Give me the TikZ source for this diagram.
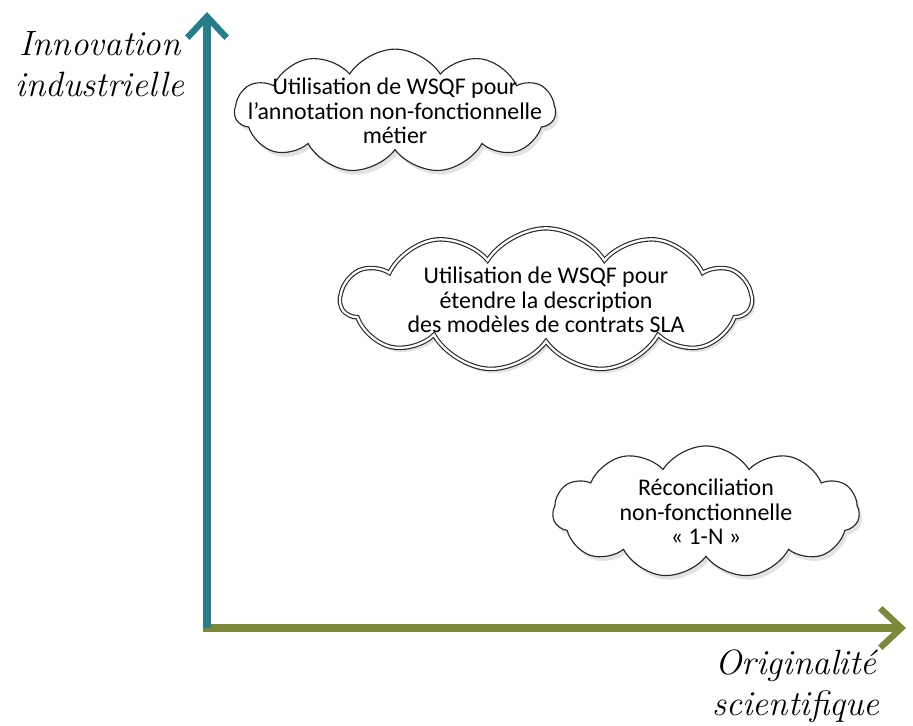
\documentclass[tikz,border=0pt]{standalone}
\usepackage{fontspec}
\setsansfont{Carlito}
\usetikzlibrary{shapes.symbols,arrows.meta,shadows}
\definecolor{axeteal}{RGB}{38,126,140}
\definecolor{axeolive}{RGB}{122,138,58}
\begin{document}
\begin{tikzpicture}[x=0.025cm,y=-0.025cm,
  bulle/.style={cloud,cloud puffs=11,cloud puff arc=115,cloud ignores aspect,draw=black!85,line width=0.8pt,
    fill=white,align=center,font=\sffamily\fontsize{17}{17.5}\selectfont,inner sep=-40pt,
    drop shadow={opacity=0.22,shadow xshift=2pt,shadow yshift=-3pt}},
  axe/.style={line width=5pt,-{Straight Barb[length=15pt,width=28pt,line width=4.5pt]}},
  titre/.style={align=center,font=\itshape\fontsize{25}{29}\selectfont}]
  \useasboundingbox (0,0) rectangle (913,725);
  \coordinate (o) at (207,628); \coordinate (ytop) at (207,12); \coordinate (xend) at (906,628);
  % axes
  \draw[axe,axeolive] (203,628)--(xend);
  \draw[axe,axeteal] (o)--(ytop);
  \node[titre] (ylab) at (100,64) {Innovation\\industrielle};
  \node[titre] (xlab) at (796,686) {Originalité\\scientifique};
  % nuages
  \node[bulle,minimum width=228pt,minimum height=88pt] (annot) at (395,111)
    {Utilisation de WSQF pour\\l’annotation non-fonctionnelle\\métier};
  \node[bulle,double=white,double distance=1.6pt,minimum width=292pt,minimum height=102pt] (sla) at (546,300)
    {Utilisation de WSQF pour\\étendre la description\\des modèles de contrats SLA};
  \node[bulle,minimum width=218pt,minimum height=94pt] (recon) at (706,512)
    {Réconciliation\\non-fonctionnelle\\« 1-N »};
\end{tikzpicture}
\end{document}
